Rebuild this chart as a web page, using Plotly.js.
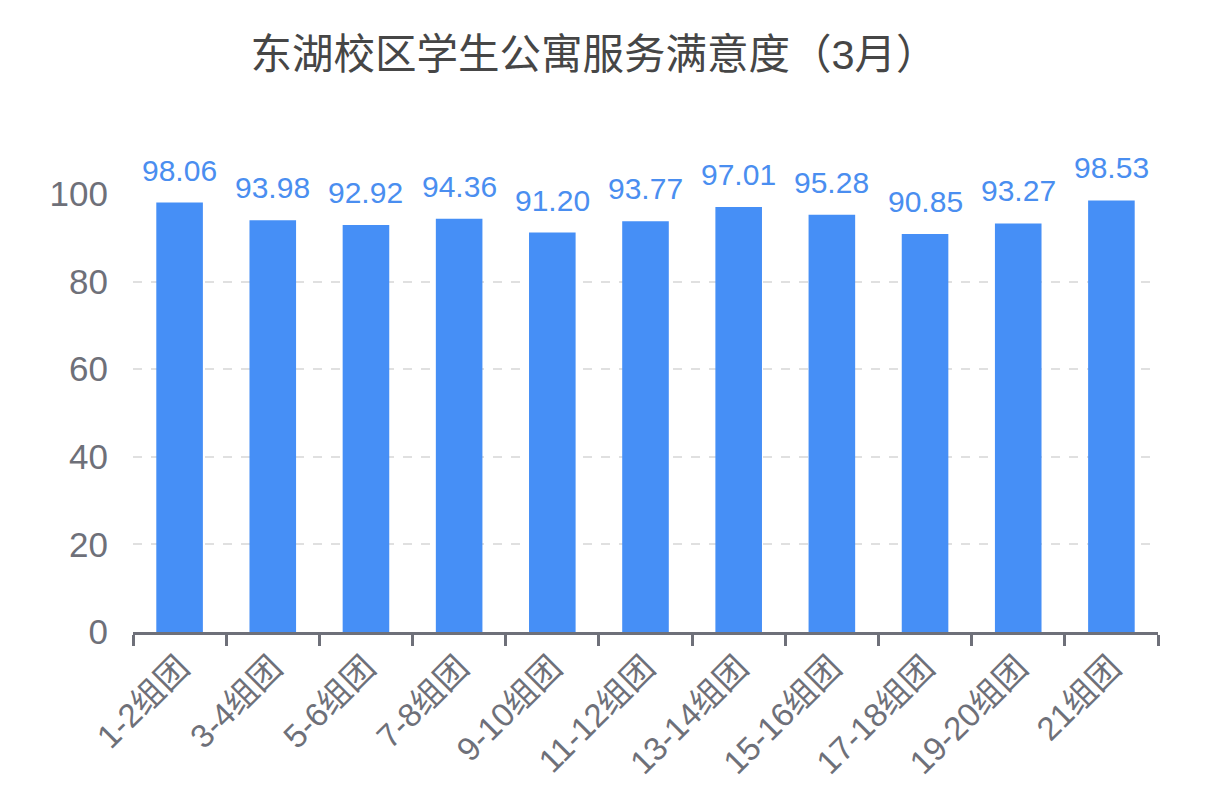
<!DOCTYPE html>
<html>
<head>
<meta charset="utf-8">
<script src="https://cdn.plot.ly/plotly-3.0.1.min.js"></script>
<style>html,body{margin:0;padding:0;background:#fff;}#chart{width:1206px;height:806px;}</style>
</head>
<body>
<div id="chart"></div>
<script>
const categories = ["1-2组团","3-4组团","5-6组团","7-8组团","9-10组团","11-12组团","13-14组团","15-16组团","17-18组团","19-20组团","21组团"];
const satisfaction = [98.06, 93.98, 92.92, 94.36, 91.20, 93.77, 97.01, 95.28, 90.85, 93.27, 98.53];
const labels = satisfaction.map(v => v.toFixed(2));
const yTicks = [0, 20, 40, 60, 80, 100];

const FONT = '"Liberation Sans", "Noto Sans CJK SC", sans-serif';

const annotations = categories.map((c, i) => ({
  x: c, y: satisfaction[i], xref: 'x', yref: 'y',
  text: labels[i], showarrow: false,
  xanchor: 'center', yanchor: 'bottom', yshift: 14,
  font: {family: FONT, size: 30, color: '#4a8ef0'}
}));

Plotly.newPlot('chart', [{
  type: 'bar',
  x: categories,
  y: satisfaction,
  marker: {color: '#468ff6'},
  hoverinfo: 'none'
}], {
  width: 1206, height: 806,
  margin: {l: 133, r: 48, t: 194, b: 174},
  paper_bgcolor: '#fff', plot_bgcolor: '#fff',
  bargap: 0.5,
  showlegend: false,
  annotations: annotations,
  title: {text: '东湖校区学生公寓服务满意度（3月）', x: 0.4925, xanchor: 'center', y: 0.932, yanchor: 'middle',
          font: {family: FONT, size: 41.5, color: '#464646'}},
  xaxis: {
    type: 'category',
    tickangle: -45,
    tickson: 'boundaries',
    ticks: 'outside', ticklen: 11, tickwidth: 3, tickcolor: '#6e7079',
    showline: true, linecolor: '#6e7079', linewidth: 3,
    showgrid: false, zeroline: false,
    tickfont: {family: FONT, size: 33, color: '#6e7079'}
  },
  yaxis: {
    range: [0, 100],
    tickvals: yTicks,
    ticktext: yTicks.map(String),
    showgrid: true, gridcolor: '#e0e0e0', gridwidth: 2, griddash: 'dash',
    zeroline: false, showline: false, ticks: '',
    ticklabelstandoff: 24,
    tickfont: {family: FONT, size: 35, color: '#6e7079'}
  }
}, {staticPlot: true});
</script>
</body>
</html>
